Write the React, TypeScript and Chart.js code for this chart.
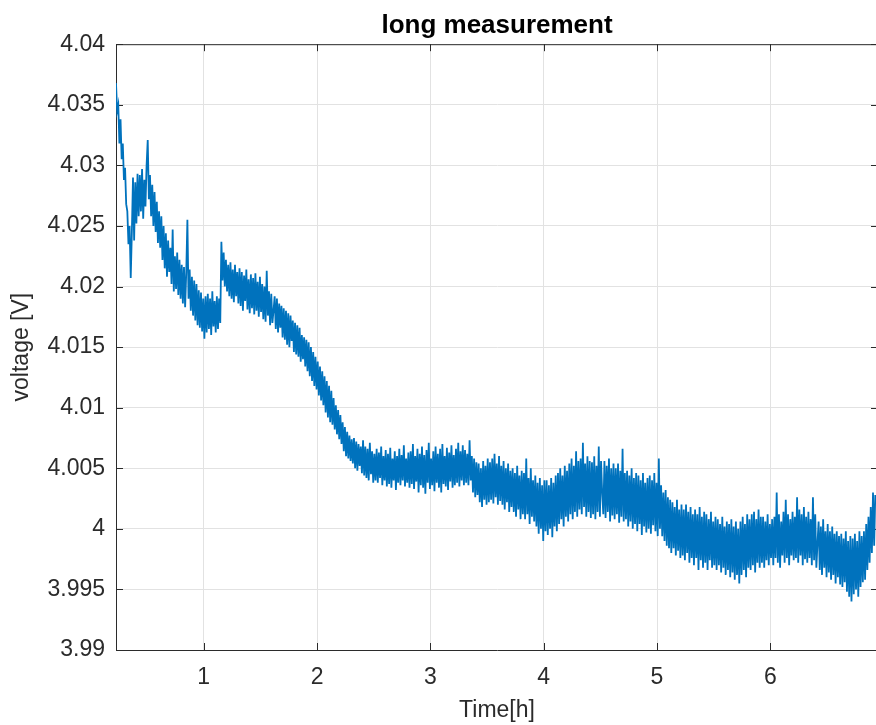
import React, { useEffect, useRef } from "react";
import { Chart, registerables } from "chart.js";

Chart.register(...registerables);

const TITLE = "long measurement";
const X_LABEL = "Time[h]";
const Y_LABEL = "voltage [V]";

// measurement sampling (hours)
const T_START = 0.226;
const T_STEP = 0.01;

// voltage samples [V] (one row = 0.1 h)
const VOLTAGE = [
  4.0368, 4.0345, 4.0350, 4.0318, 4.0338, 4.0305, 4.0318, 4.0288, 4.0298, 4.0268,
  4.0262, 4.0235, 4.0250, 4.0207, 4.0245, 4.0290, 4.0238, 4.0286, 4.0252, 4.0293,
  4.0258, 4.0292, 4.0262, 4.0297, 4.0256, 4.0288, 4.0266, 4.0300, 4.0321, 4.0272,
  4.0292, 4.0258, 4.0284, 4.0250, 4.0278, 4.0245, 4.0270, 4.0236, 4.0262, 4.0232,
  4.0258, 4.0222, 4.0250, 4.0215, 4.0244, 4.0208, 4.0238, 4.0212, 4.0232, 4.0202,
  4.0247, 4.0196, 4.0225, 4.0198, 4.0228, 4.0193, 4.0222, 4.0190, 4.0218, 4.0186,
  4.0216, 4.0183, 4.0212, 4.0255, 4.0190, 4.0214, 4.0180, 4.0208, 4.0176, 4.0205,
  4.0172, 4.0202, 4.0168, 4.0197, 4.0166, 4.0195, 4.0163, 4.0190, 4.0157, 4.0192,
  4.0162, 4.0194, 4.0165, 4.0190, 4.0160, 4.0196, 4.0167, 4.0188, 4.0162, 4.0192,
  4.0165, 4.0190, 4.0170, 4.0237, 4.0205, 4.0228, 4.0200, 4.0222, 4.0196, 4.0218,
  4.0192, 4.0220, 4.0190, 4.0214, 4.0187, 4.0218, 4.0192, 4.0212, 4.0186, 4.0215,
  4.0184, 4.0212, 4.0180, 4.0209, 4.0188, 4.0214, 4.0181, 4.0206, 4.0178, 4.0210,
  4.0182, 4.0207, 4.0177, 4.0211, 4.0180, 4.0204, 4.0175, 4.0208, 4.0179, 4.0202,
  4.0173, 4.0200, 4.0171, 4.0213, 4.0176, 4.0196, 4.0168, 4.0194, 4.0170, 4.0180,
  4.0192, 4.0165, 4.0190, 4.0162, 4.0186, 4.0166, 4.0184, 4.0158, 4.0182, 4.0156,
  4.0180, 4.0152, 4.0178, 4.0150, 4.0176, 4.0155, 4.0172, 4.0146, 4.0170, 4.0144,
  4.0168, 4.0142, 4.0166, 4.0138, 4.0160, 4.0140, 4.0158, 4.0134, 4.0156, 4.0130,
  4.0154, 4.0126, 4.0150, 4.0122, 4.0146, 4.0118, 4.0142, 4.0115, 4.0138, 4.0110,
  4.0134, 4.0106, 4.0130, 4.0102, 4.0126, 4.0096, 4.0122, 4.0092, 4.0118, 4.0088,
  4.0114, 4.0086, 4.0108, 4.0082, 4.0102, 4.0078, 4.0098, 4.0074, 4.0094, 4.0070,
  4.0088, 4.0064, 4.0084, 4.0060, 4.0080, 4.0058, 4.0077, 4.0056, 4.0074, 4.0054,
  4.0075, 4.0050, 4.0072, 4.0048, 4.0070, 4.0052, 4.0068, 4.0046, 4.0073, 4.0044,
  4.0068, 4.0042, 4.0066, 4.0040, 4.0071, 4.0045, 4.0064, 4.0038, 4.0062, 4.0040,
  4.0066, 4.0038, 4.0063, 4.0042, 4.0068, 4.0036, 4.0060, 4.0040, 4.0065, 4.0035,
  4.0062, 4.0037, 4.0067, 4.0034, 4.0058, 4.0040, 4.0064, 4.0032, 4.0060, 4.0038,
  4.0066, 4.0036, 4.0061, 4.0040, 4.0069, 4.0035, 4.0058, 4.0038, 4.0063, 4.0034,
  4.0064, 4.0037, 4.0070, 4.0033, 4.0060, 4.0039, 4.0066, 4.0030, 4.0062, 4.0036,
  4.0068, 4.0034, 4.0061, 4.0029, 4.0065, 4.0038, 4.0071, 4.0033, 4.0058, 4.0036,
  4.0064, 4.0031, 4.0068, 4.0038, 4.0062, 4.0034, 4.0066, 4.0030, 4.0070, 4.0037,
  4.0060, 4.0035, 4.0067, 4.0032, 4.0063, 4.0039, 4.0069, 4.0034, 4.0061, 4.0036,
  4.0066, 4.0038, 4.0071, 4.0035, 4.0064, 4.0040, 4.0069, 4.0036, 4.0065, 4.0038,
  4.0062, 4.0036, 4.0073, 4.0040, 4.0060, 4.0030, 4.0058, 4.0026, 4.0055, 4.0028,
  4.0054, 4.0022, 4.0050, 4.0018, 4.0056, 4.0024, 4.0052, 4.0020, 4.0058, 4.0022,
  4.0055, 4.0024, 4.0058, 4.0021, 4.0062, 4.0026, 4.0054, 4.0020, 4.0060, 4.0023,
  4.0052, 4.0020, 4.0056, 4.0016, 4.0050, 4.0022, 4.0054, 4.0014, 4.0048, 4.0018,
  4.0050, 4.0014, 4.0046, 4.0010, 4.0052, 4.0016, 4.0044, 4.0008, 4.0048, 4.0012,
  4.0046, 4.0008, 4.0058, 4.0012, 4.0042, 4.0004, 4.0050, 4.0010, 4.0040, 4.0006,
  4.0044, 4.0002, 4.0038, 3.9996, 4.0042, 4.0000, 4.0036, 3.9990, 4.0040, 3.9998,
  4.0040, 3.9995, 4.0036, 4.0000, 4.0042, 3.9993, 4.0038, 4.0002, 4.0044, 3.9998,
  4.0046, 4.0004, 4.0050, 4.0008, 4.0044, 4.0002, 4.0052, 4.0010, 4.0048, 4.0006,
  4.0054, 4.0012, 4.0058, 4.0008, 4.0052, 4.0014, 4.0064, 4.0010, 4.0056, 4.0016,
  4.0058, 4.0012, 4.0071, 4.0018, 4.0054, 4.0010, 4.0060, 4.0014, 4.0056, 4.0009,
  4.0055, 4.0012, 4.0060, 4.0008, 4.0052, 4.0014, 4.0068, 4.0010, 4.0056, 4.0030,
  4.0012, 4.0056, 4.0009, 4.0052, 4.0014, 4.0058, 4.0006, 4.0050, 4.0011, 4.0054,
  4.0008, 4.0050, 4.0012, 4.0054, 4.0005, 4.0048, 4.0010, 4.0066, 4.0006, 4.0046,
  4.0008, 4.0048, 4.0002, 4.0044, 4.0006, 4.0050, 4.0000, 4.0042, 4.0004, 4.0046,
  3.9998, 4.0044, 4.0004, 4.0040, 3.9995, 4.0046, 4.0002, 4.0038, 3.9997, 4.0042,
  4.0000, 4.0044, 3.9996, 4.0040, 4.0003, 4.0046, 3.9998, 4.0038, 3.9994, 4.0058,
  4.0000, 4.0036, 3.9994, 4.0030, 3.9990, 4.0032, 3.9986, 4.0026, 3.9984, 4.0024,
  3.9980, 4.0022, 3.9984, 4.0018, 3.9978, 4.0024, 3.9982, 4.0016, 3.9976, 4.0020,
  3.9978, 4.0016, 3.9974, 4.0020, 3.9980, 4.0014, 3.9972, 4.0018, 3.9976, 4.0012,
  3.9970, 4.0016, 3.9976, 4.0012, 3.9966, 4.0018, 3.9974, 4.0010, 3.9968, 4.0014,
  3.9972, 4.0012, 3.9966, 4.0008, 3.9974, 4.0014, 3.9968, 4.0006, 3.9970, 4.0010,
  3.9966, 4.0008, 3.9970, 4.0004, 3.9964, 4.0010, 3.9968, 4.0002, 3.9962, 4.0006,
  3.9966, 4.0004, 3.9960, 4.0008, 3.9964, 4.0002, 3.9958, 4.0006, 3.9962, 4.0000,
  3.9955, 4.0006, 3.9962, 4.0010, 3.9966, 4.0004, 3.9960, 4.0012, 3.9968, 4.0008,
  3.9966, 4.0012, 3.9970, 4.0014, 3.9964, 4.0008, 3.9972, 4.0016, 3.9968, 4.0010,
  3.9972, 4.0010, 3.9968, 4.0006, 3.9974, 4.0012, 3.9970, 4.0004, 3.9976, 4.0008,
  3.9970, 4.0010, 3.9976, 4.0030, 3.9972, 4.0012, 3.9968, 4.0006, 3.9978, 4.0014,
  3.9972, 4.0024, 3.9976, 4.0012, 3.9970, 4.0008, 3.9978, 4.0014, 3.9974, 4.0010,
  3.9976, 4.0026, 3.9972, 4.0016, 3.9978, 4.0012, 3.9970, 4.0018, 3.9975, 4.0010,
  3.9972, 4.0014, 3.9976, 4.0008, 3.9970, 4.0026, 3.9974, 4.0012, 3.9968, 3.9988,
  4.0006, 3.9966, 4.0002, 3.9962, 4.0008, 3.9968, 3.9998, 3.9960, 4.0004, 3.9964,
  3.9998, 3.9958, 4.0002, 3.9962, 3.9996, 3.9955, 3.9998, 3.9960, 3.9994, 3.9954,
  3.9996, 3.9952, 3.9992, 3.9956, 3.9998, 3.9948, 3.9990, 3.9944, 3.9994, 3.9940,
  3.9992, 3.9946, 3.9996, 3.9950, 3.9990, 3.9944, 3.9998, 3.9952, 3.9994, 3.9956,
  3.9998, 3.9958, 4.0004, 3.9966, 4.0010, 3.9972, 4.0018, 3.9980, 4.0030, 3.9986,
  4.0028,
];

const X_MIN = 0.226;
const X_MAX = 6.95;
const Y_MIN = 3.99;
const Y_MAX = 4.04;
const X_TICKS = [1, 2, 3, 4, 5, 6];
const X_TICK_LABELS = ["1", "2", "3", "4", "5", "6"];
const Y_TICKS = [3.99, 3.995, 4.0, 4.005, 4.01, 4.015, 4.02, 4.025, 4.03, 4.035, 4.04];
const Y_TICK_LABELS = ["3.99", "3.995", "4", "4.005", "4.01", "4.015", "4.02", "4.025", "4.03", "4.035", "4.04"];

const FONT = "'Liberation Sans', Arial, Helvetica, sans-serif";
const AXIS_COLOR = "#2b2b2b";
const GRID_COLOR = "#e2e2e2";
const LINE_COLOR = "#0072BD";

const CANVAS_W = 900;
const CANVAS_H = 725;

const framePlugin = {
  id: "matlabFrame",
  beforeDatasetsDraw(chart: any) {
    const { ctx, chartArea, scales } = chart;
    const { left, right, top, bottom } = chartArea;
    ctx.save();
    ctx.strokeStyle = AXIS_COLOR;
    ctx.lineWidth = 1;
    ctx.beginPath();
    ctx.moveTo(left, top + 0.5);
    ctx.lineTo(right, top + 0.5);
    ctx.moveTo(right - 0.5, top);
    ctx.lineTo(right - 0.5, bottom);
    const tl = 7;
    X_TICKS.forEach((v) => {
      const px = Math.round(scales.x.getPixelForValue(v)) + 0.5;
      ctx.moveTo(px, bottom);
      ctx.lineTo(px, bottom - tl);
      ctx.moveTo(px, top);
      ctx.lineTo(px, top + tl);
    });
    Y_TICKS.forEach((v) => {
      const py = Math.round(scales.y.getPixelForValue(v)) + 0.5;
      ctx.moveTo(left, py);
      ctx.lineTo(left + tl, py);
      ctx.moveTo(right, py);
      ctx.lineTo(right - tl, py);
    });
    ctx.stroke();
    ctx.restore();
  },
};

export default function App() {
  const ref = useRef<HTMLCanvasElement | null>(null);

  useEffect(() => {
    if (!ref.current) return;
    const points = VOLTAGE.map((v, i) => ({ x: T_START + i * T_STEP, y: v }));
    const chart = new Chart(ref.current, {
      type: "line",
      data: {
        datasets: [
          {
            label: "voltage",
            data: points,
            borderColor: LINE_COLOR,
            backgroundColor: LINE_COLOR,
            borderWidth: 1.8,
            pointRadius: 0,
            tension: 0,
            fill: false,
          },
        ],
      },
      options: {
        responsive: false,
        animation: false,
        devicePixelRatio: 1,
        layout: { padding: { left: 0, right: 22, top: 0, bottom: 0 } },
        plugins: {
          legend: { display: false },
          tooltip: { enabled: false },
          title: {
            display: true,
            text: TITLE,
            fullSize: false,
            color: "#000",
            font: { family: FONT, size: 26, weight: "bold" },
            padding: { top: 10, bottom: 3 },
          },
        },
        scales: {
          x: {
            type: "linear",
            min: X_MIN,
            max: X_MAX,
            afterBuildTicks: (s: any) => {
              s.ticks = X_TICKS.map((v) => ({ value: v }));
            },
            afterFit: (s: any) => {
              s.height = 75;
            },
            ticks: {
              autoSkip: false,
              maxRotation: 0,
              padding: 14,
              color: AXIS_COLOR,
              font: { family: FONT, size: 23 },
              callback: (v: any) => {
                const i = X_TICKS.indexOf(Number(v));
                return i >= 0 ? X_TICK_LABELS[i] : "";
              },
            },
            grid: { color: GRID_COLOR, lineWidth: 1, drawTicks: false },
            border: { display: true, color: AXIS_COLOR, width: 1 },
            title: {
              display: true,
              text: X_LABEL,
              color: AXIS_COLOR,
              font: { family: FONT, size: 23 },
              padding: { top: 0, bottom: 1 },
            },
          },
          y: {
            type: "linear",
            min: Y_MIN,
            max: Y_MAX,
            afterBuildTicks: (s: any) => {
              s.ticks = Y_TICKS.map((v) => ({ value: v }));
            },
            afterFit: (s: any) => {
              s.width = 116;
            },
            ticks: {
              autoSkip: false,
              padding: 11,
              color: AXIS_COLOR,
              font: { family: FONT, size: 23 },
              callback: (v: any) => {
                const i = Y_TICKS.findIndex((t) => Math.abs(t - Number(v)) < 1e-9);
                return i >= 0 ? Y_TICK_LABELS[i] : "";
              },
            },
            grid: { color: GRID_COLOR, lineWidth: 1, drawTicks: false },
            border: { display: true, color: AXIS_COLOR, width: 1 },
            title: {
              display: true,
              text: Y_LABEL,
              color: AXIS_COLOR,
              font: { family: FONT, size: 23 },
              padding: { top: 8, bottom: 0 },
            },
          },
        },
      },
      plugins: [framePlugin],
    });
    return () => chart.destroy();
  }, []);

  return (
    <div
      style={{
        position: "fixed",
        left: 0,
        top: 0,
        width: 876,
        height: 725,
        overflow: "hidden",
        background: "#fff",
      }}
    >
      <canvas ref={ref} width={CANVAS_W} height={CANVAS_H} style={{ display: "block", width: CANVAS_W, height: CANVAS_H }} />
    </div>
  );
}
